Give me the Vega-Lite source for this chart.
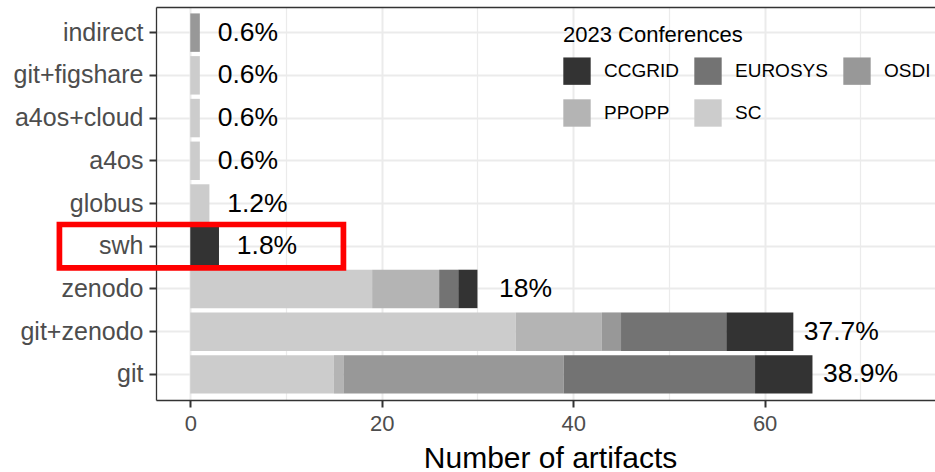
{
  "$schema": "https://vega.github.io/schema/vega-lite/v6.json",
  "autosize": {"type": "none"},
  "padding": {"left": 156, "top": 7, "right": 0, "bottom": 72},
  "width": 779,
  "height": 393,
  "background": "white",
  "config": {
    "view": {"stroke": null},
    "font": "Liberation Sans",
    "axis": {
      "domainColor": "#333333",
      "domainWidth": 1.3,
      "tickColor": "#333333",
      "tickWidth": 2,
      "tickSize": 7,
      "gridColor": "#ebebeb",
      "labelFont": "Liberation Sans",
      "titleFont": "Liberation Sans",
      "labelColor": "#4d4d4d",
      "titleColor": "#000000",
      "titleFontWeight": "normal"
    }
  },
  "datasets": {
    "counts": [
      {"category": "indirect", "conference": "OSDI", "n": 1},
      {"category": "git+figshare", "conference": "SC", "n": 1},
      {"category": "a4os+cloud", "conference": "SC", "n": 1},
      {"category": "a4os", "conference": "SC", "n": 1},
      {"category": "globus", "conference": "SC", "n": 2},
      {"category": "swh", "conference": "CCGRID", "n": 3},
      {"category": "zenodo", "conference": "SC", "n": 19},
      {"category": "zenodo", "conference": "PPOPP", "n": 7},
      {"category": "zenodo", "conference": "EUROSYS", "n": 2},
      {"category": "zenodo", "conference": "CCGRID", "n": 2},
      {"category": "git+zenodo", "conference": "SC", "n": 34},
      {"category": "git+zenodo", "conference": "PPOPP", "n": 9},
      {"category": "git+zenodo", "conference": "OSDI", "n": 2},
      {"category": "git+zenodo", "conference": "EUROSYS", "n": 11},
      {"category": "git+zenodo", "conference": "CCGRID", "n": 7},
      {"category": "git", "conference": "SC", "n": 15},
      {"category": "git", "conference": "PPOPP", "n": 1},
      {"category": "git", "conference": "OSDI", "n": 23},
      {"category": "git", "conference": "EUROSYS", "n": 20},
      {"category": "git", "conference": "CCGRID", "n": 6}
    ],
    "labels": [
      {"category": "indirect", "total": 1, "label": "0.6%"},
      {"category": "git+figshare", "total": 1, "label": "0.6%"},
      {"category": "a4os+cloud", "total": 1, "label": "0.6%"},
      {"category": "a4os", "total": 1, "label": "0.6%"},
      {"category": "globus", "total": 2, "label": "1.2%"},
      {"category": "swh", "total": 3, "label": "1.8%"},
      {"category": "zenodo", "total": 30, "label": "18%"},
      {"category": "git+zenodo", "total": 63, "label": "37.7%"},
      {"category": "git", "total": 65, "label": "38.9%"}
    ]
  },
  "encoding": {
    "y": {
      "field": "category",
      "type": "nominal",
      "scale": {
        "domain": ["indirect", "git+figshare", "a4os+cloud", "a4os", "globus", "swh", "zenodo", "git+zenodo", "git"],
        "paddingInner": 0.1,
        "paddingOuter": 0.15
      },
      "axis": {
        "title": null,
        "labelFontSize": 25,
        "labelPadding": 6,
        "grid": true,
        "gridWidth": 2,
        "bandPosition": 0.5
      }
    }
  },
  "layer": [
    {
      "data": {"name": "counts"},
      "mark": {"type": "bar"},
      "encoding": {
        "x": {
          "field": "n",
          "type": "quantitative",
          "aggregate": "sum",
          "stack": "zero",
          "scale": {"domain": [-3.58, 77.8], "nice": false, "zero": false},
          "axis": {
            "orient": "bottom",
            "title": "Number of artifacts",
            "titleFontSize": 30,
            "titleX": 394,
            "titleY": 67,
            "titleBaseline": "alphabetic",
            "values": [0, 10, 20, 30, 40, 50, 60, 70],
            "labelExpr": "datum.value % 20 === 0 ? datum.label : ''",
            "labelFontSize": 22,
            "labelPadding": 6,
            "labelOverlap": false,
            "tickOpacity": {"condition": {"test": "datum.value % 20 === 0", "value": 1}, "value": 0},
            "grid": true,
            "gridWidth": {"condition": {"test": "datum.value % 20 === 0", "value": 2}, "value": 1.2}
          }
        },
        "color": {
          "field": "conference",
          "type": "nominal",
          "scale": {
            "domain": ["CCGRID", "EUROSYS", "OSDI", "PPOPP", "SC"],
            "range": ["#333333", "#737373", "#989898", "#b4b4b4", "#cccccc"]
          },
          "legend": {
            "title": "2023 Conferences",
            "orient": "none",
            "legendX": 407,
            "legendY": 18,
            "direction": "horizontal",
            "columns": 3,
            "symbolType": "square",
            "symbolSize": 750,
            "symbolStrokeWidth": 0,
            "symbolOpacity": 1,
            "labelFontSize": 19,
            "labelColor": "#000000",
            "labelOffset": 13,
            "columnPadding": 15,
            "rowPadding": 14,
            "titleFontSize": 22,
            "titleFontWeight": "normal",
            "titleColor": "#000000",
            "titlePadding": 10
          }
        },
        "order": {"field": "conference", "sort": "descending"}
      }
    },
    {
      "data": {"name": "labels"},
      "mark": {"type": "text", "align": "center", "baseline": "middle", "dx": 48, "fontSize": 26.5, "color": "#000000", "font": "Liberation Sans"},
      "encoding": {
        "x": {
          "field": "total",
          "type": "quantitative",
          "axis": {"orient": "top", "labels": false, "ticks": false, "grid": false, "domain": true, "title": null}
        },
        "text": {"field": "label"}
      }
    },
    {
      "data": {"values": [{}]},
      "mark": {"type": "rect", "fill": null, "stroke": "#ff0000", "strokeWidth": 5.7, "height": {"band": 1.13}},
      "encoding": {
        "x": {"datum": -13.67, "type": "quantitative", "axis": null},
        "x2": {"datum": 16},
        "y": {"datum": "swh", "type": "nominal"}
      }
    }
  ],
  "resolve": {"axis": {"x": "independent"}}
}
